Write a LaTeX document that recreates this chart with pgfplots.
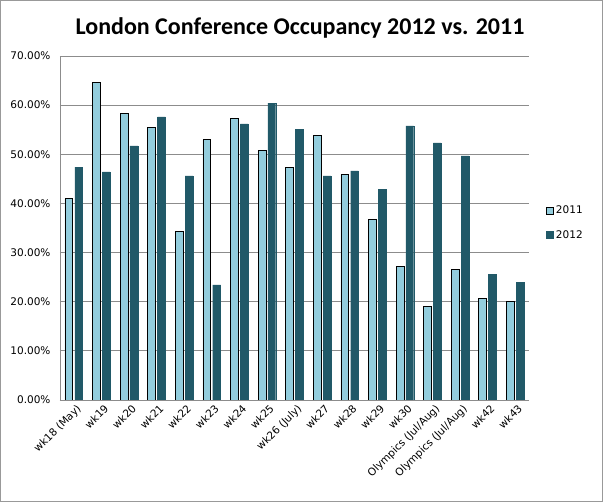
\documentclass[border=0pt]{standalone}
\usepackage{pgfplots}
\pgfplotsset{compat=1.18}
\usepackage{fontspec}
\setmainfont{DejaVu Sans}
\newfontfamily\titlefont{Carlito}

\definecolor{light}{HTML}{93CDDD}
\definecolor{dark}{HTML}{215968}
\definecolor{gridgray}{HTML}{8C8C8C}

\begin{document}
\begin{tikzpicture}
\path[use as bounding box] (0,0) rectangle (603pt,502pt);
\draw[gray!80, line width=1pt] (0.5pt,0.5pt) rectangle (602.5pt,501.5pt);
\node[font=\titlefont\bfseries\fontsize{24}{28}\selectfont] at (300pt,474pt) {London Conference Occupancy 2012 vs. 2011};

\begin{axis}[
  at={(60pt,102pt)}, anchor=south west,
  scale only axis,
  width=469pt, height=344pt,
  ybar, bar width=7.8pt,
  ymin=0, ymax=70,
  xmin=-0.5, xmax=16.5,
  xtick=data,
  xticklabels={wk18 (May),wk19,wk20,wk21,wk22,wk23,wk24,wk25,wk26 (July),wk27,wk28,wk29,wk30,Olympics (Jul/Aug),Olympics (Jul/Aug),wk42,wk43},
  xticklabel style={font=\fontsize{10.5}{12}\selectfont, rotate=45, anchor=north east, inner sep=1pt, yshift=-3pt},
  ytick={0,10,...,70},
  yticklabels={0.00\%,10.00\%,20.00\%,30.00\%,40.00\%,50.00\%,60.00\%,70.00\%},
  yticklabel style={font=\fontsize{10.5}{12}\selectfont, xshift=-6pt},
  major tick length=0pt,
  axis x line*=bottom, axis y line*=left,
  axis line style={gridgray, line width=0.8pt},
  ymajorgrids, grid style={gridgray, line width=0.8pt},
  legend style={at={(1.03,0.515)}, anchor=west, draw=none, fill=none,
    font=\fontsize{10.5}{12}\selectfont, row sep=11pt},
  legend image code/.code={\draw[#1] (0pt,-3.5pt) rectangle (7pt,3.5pt);},
]
\addplot[fill=light, draw=black, line width=0.7pt] coordinates {
(0,41.0) (1,64.6) (2,58.3) (3,55.5) (4,34.3) (5,53.0) (6,57.3) (7,50.7) (8,47.3)
(9,53.9) (10,45.9) (11,36.8) (12,27.2) (13,19.1) (14,26.6) (15,20.7) (16,20.1)};
\addlegendentry{2011}
\addplot[fill=dark, draw=dark, line width=0.3pt] coordinates {
(0,47.4) (1,46.4) (2,51.7) (3,57.6) (4,45.6) (5,23.4) (6,56.2) (7,60.4) (8,55.1)
(9,45.6) (10,46.6) (11,42.9) (12,55.8) (13,52.3) (14,49.7) (15,25.6) (16,23.9)};
\addlegendentry{2012}
\end{axis}
\end{tikzpicture}
\end{document}
